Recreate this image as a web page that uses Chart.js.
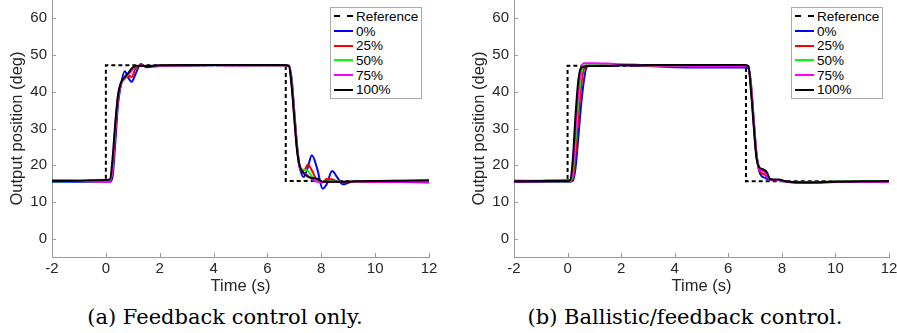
<!DOCTYPE html>
<html>
<head>
<meta charset="utf-8">
<script src="https://cdn.jsdelivr.net/npm/chart.js@4.4.1/dist/chart.umd.min.js"></script>
<style>
  body { margin: 0; width: 897px; height: 333px; overflow: hidden; background: #fff; position: relative; font-family: "Liberation Sans", Arial, sans-serif; }
  canvas { position: absolute; top: 0; }
  #chartA { left: 0; }
  #chartB { left: 462px; }
  .legend { position: absolute; top: 7px; width: 85px; border: 1px solid #aaa; background: #fff; padding: 1px 2px 1px 3px; font-size: 13.5px; color: #000; }
  .legend .row { height: 14.7px; display: flex; align-items: center; }
  .legend .swatch { width: 19px; height: 0; border-top: 2px solid #000; margin-right: 3px; }
  .caption { position: absolute; top: 305px; font-family: "DejaVu Serif", serif; font-size: 21px; line-height: 24px; color: #000; white-space: nowrap; transform: translateX(-50%); }
</style>
</head>
<body>
<canvas id="chartA" width="448" height="296"></canvas>
<canvas id="chartB" width="435" height="296"></canvas>
<div class="legend" id="legendA" style="left:330px"></div>
<div class="legend" id="legendB" style="left:791px"></div>
<div class="caption" style="left:225px">(a) Feedback control only.</div>
<div class="caption" style="left:685px">(b) Ballistic/feedback control.</div>
<script>
// nama seri dan warna
const seriesNames = ["Reference", "0%", "25%", "50%", "75%", "100%"];
const seriesColors = ["#000000", "#0000ff", "#ff0000", "#00ff00", "#ff00ff", "#000000"];

// (a) feedback saja
const refTimesA = [-2, 0, 0, 6.68, 6.68, 12];
const refValuesA = [15.7, 15.7, 47.2, 47.2, 15.7, 15.7];
const timesA = [-2, -1, 0, 0.15, 0.25, 0.35, 0.45, 0.55, 0.7, 0.85, 0.95, 1.1, 1.3, 1.5, 2, 3, 4, 5, 6, 6.6,
  6.8, 6.9, 7.0, 7.1, 7.2, 7.35, 7.5, 7.65, 7.85, 8.05, 8.2, 8.4, 8.6, 8.8, 9.0, 9.3, 10, 11, 12];
const p0A = [15.5, 15.5, 15.5, 15.5, 17.0, 26.0, 36.5, 41.5, 45.6, 43.6, 42.7, 44.8, 47.6, 46.7, 47.0, 47.1, 47.2, 47.2, 47.2, 47.2,
  47.1, 43.5, 34.5, 25.5, 19.5, 16.8, 19.5, 22.7, 19.0, 13.6, 14.8, 18.4, 16.6, 14.8, 15.2, 15.7, 15.4, 15.4, 15.3];
const p25A = [15.8, 15.7, 15.6, 15.6, 19.0, 29.0, 37.8, 41.8, 43.6, 44.4, 44.0, 46.3, 47.2, 47.0, 47.1, 47.2, 47.3, 47.2, 47.2, 47.2,
  47.1, 43.0, 34.0, 25.0, 19.5, 18.6, 20.1, 18.6, 15.8, 15.3, 16.3, 16.2, 15.6, 15.3, 15.4, 15.5, 15.5, 15.6, 15.6];
const p50A = [15.6, 15.7, 15.6, 15.7, 20.0, 30.5, 38.8, 42.0, 43.8, 44.8, 45.6, 46.9, 47.1, 47.0, 47.1, 47.2, 47.3, 47.3, 47.2, 47.2,
  47.1, 42.5, 33.5, 24.5, 19.4, 18.8, 18.5, 17.0, 15.7, 15.4, 15.6, 15.7, 15.6, 15.5, 15.5, 15.6, 15.7, 15.8, 15.8];
const p75A = [15.9, 15.8, 15.5, 15.5, 19.5, 30.0, 38.5, 42.0, 44.0, 45.0, 45.8, 46.9, 47.1, 47.0, 47.1, 47.2, 47.3, 47.2, 47.2, 47.2,
  47.1, 42.0, 33.0, 24.3, 19.2, 18.0, 17.2, 16.2, 15.5, 15.4, 15.5, 15.5, 15.5, 15.5, 15.5, 15.6, 15.5, 15.5, 15.5];
const p100A = [15.7, 15.8, 16.0, 16.1, 22.0, 31.5, 39.0, 42.3, 44.0, 45.3, 46.3, 47.0, 47.1, 47.0, 47.2, 47.3, 47.3, 47.3, 47.3, 47.3,
  47.0, 41.5, 32.5, 24.0, 19.8, 17.8, 16.9, 16.5, 16.3, 15.5, 15.5, 15.5, 15.5, 15.5, 15.5, 15.6, 15.7, 15.8, 15.9];

// (b) ballistic/feedback
const refTimesB = [-2, 0, 0, 6.66, 6.66, 12];
const refValuesB = [15.6, 15.6, 47.1, 47.1, 15.6, 15.6];
const timesB = [-2, -1, 0, 0.1, 0.2, 0.3, 0.4, 0.5, 0.6, 0.7, 0.8, 1.0, 1.5, 2, 2.5, 3, 4, 5, 6, 6.6,
  6.75, 6.85, 6.95, 7.05, 7.15, 7.25, 7.35, 7.45, 7.55, 7.7, 7.9, 8.1, 8.4, 9, 10, 11, 12];
const p0B = [15.5, 15.5, 15.5, 15.5, 15.8, 19.5, 27.5, 36.0, 42.5, 46.5, 47.0, 47.0, 47.1, 47.2, 47.1, 47.0, 46.7, 46.6, 46.6, 46.6,
  46.5, 42.0, 32.5, 23.5, 18.5, 17.0, 16.6, 16.3, 16.0, 16.0, 16.0, 15.6, 15.3, 15.2, 15.4, 15.5, 15.5];
const p25B = [15.6, 15.6, 15.6, 15.6, 16.5, 23.5, 33.0, 41.0, 46.0, 47.0, 47.1, 47.1, 47.2, 47.3, 47.2, 47.1, 46.9, 46.9, 47.0, 47.0,
  46.9, 41.5, 32.0, 23.0, 18.8, 17.8, 17.5, 16.8, 16.1, 16.0, 16.0, 15.6, 15.4, 15.3, 15.5, 15.6, 15.6];
const p50B = [15.9, 15.7, 15.6, 15.7, 18.0, 27.5, 37.5, 44.5, 47.0, 47.2, 47.2, 47.2, 47.3, 47.3, 47.3, 47.2, 47.1, 47.1, 47.1, 47.1,
  47.0, 41.0, 31.5, 22.5, 19.5, 18.8, 18.5, 17.4, 16.2, 16.0, 16.0, 15.7, 15.4, 15.3, 15.6, 15.7, 15.7];
const p75B = [15.6, 15.8, 16.0, 16.0, 19.0, 30.0, 40.0, 46.0, 47.8, 47.8, 47.8, 47.8, 47.7, 47.5, 47.4, 47.2, 47.1, 47.0, 47.0, 47.0,
  46.9, 41.0, 31.5, 23.0, 19.2, 18.5, 18.2, 17.0, 16.1, 16.0, 16.0, 15.6, 15.4, 15.3, 15.5, 15.5, 15.5];
const p100B = [15.6, 15.7, 15.7, 15.9, 22.0, 34.0, 43.0, 46.5, 46.8, 47.0, 47.0, 47.0, 47.0, 47.2, 47.2, 47.3, 47.3, 47.3, 47.3, 47.3,
  47.0, 40.0, 30.5, 22.0, 19.5, 19.0, 18.7, 18.0, 16.3, 16.1, 16.1, 15.7, 15.4, 15.3, 15.5, 15.6, 15.7];

// tick axis
const xTicks = [-2, 0, 2, 4, 6, 8, 10, 12];
const yTicks = [0, 10, 20, 30, 40, 50, 60];

const axisGray = "#9a9a9a";
const tickText = "#262626";

const toPoints = (ts, vs) => ts.map((t, i) => ({ x: t, y: vs[i] }));

// tick kecil ke arah dalam
const inwardTicks = {
  id: "inwardTicks",
  afterDraw(chart) {
    const { ctx, chartArea, scales } = chart;
    ctx.save();
    ctx.strokeStyle = axisGray;
    ctx.lineWidth = 1;
    ctx.beginPath();
    scales.x.ticks.forEach(t => {
      const px = Math.round(scales.x.getPixelForValue(t.value)) + 0.5;
      ctx.moveTo(px, chartArea.bottom);
      ctx.lineTo(px, chartArea.bottom - 4);
    });
    scales.y.ticks.forEach(t => {
      const py = Math.round(scales.y.getPixelForValue(t.value)) + 0.5;
      ctx.moveTo(chartArea.left, py);
      ctx.lineTo(chartArea.left + 4, py);
    });
    ctx.stroke();
    ctx.restore();
  }
};

function buildLegend(id) {
  const box = document.getElementById(id);
  seriesNames.forEach((name, i) => {
    const row = document.createElement("div");
    row.className = "row";
    const sw = document.createElement("span");
    sw.className = "swatch";
    sw.style.borderTop = (i === 0 ? "2px dashed " : "2px solid ") + seriesColors[i];
    const label = document.createElement("span");
    label.textContent = name;
    row.appendChild(sw);
    row.appendChild(label);
    box.appendChild(row);
  });
}

function makeChart(canvasId, refTimes, refValues, times, curves, rightPad) {
  const datasets = [{
    label: seriesNames[0],
    data: toPoints(refTimes, refValues),
    borderColor: seriesColors[0],
    borderWidth: 2,
    borderDash: [4, 3],
    tension: 0,
    order: 6
  }];
  curves.forEach((vals, i) => {
    datasets.push({
      label: seriesNames[i + 1],
      data: toPoints(times, vals),
      borderColor: seriesColors[i + 1],
      borderWidth: 2,
      cubicInterpolationMode: "monotone",
      order: 5 - i
    });
  });

  return new Chart(document.getElementById(canvasId), {
    type: "line",
    data: { datasets },
    options: {
      responsive: false,
      animation: false,
      events: [],
      layout: { padding: { left: 8, right: rightPad, top: 0, bottom: 0 } },
      elements: { point: { radius: 0 } },
      plugins: { legend: { display: false }, tooltip: { enabled: false } },
      scales: {
        x: {
          type: "linear",
          min: -2,
          max: 12,
          afterBuildTicks: axis => { axis.ticks = xTicks.map(v => ({ value: v })); },
          afterFit: scale => { scale.height = 39; scale.paddingLeft = 0; scale.paddingRight = 0; },
          grid: { display: true, drawOnChartArea: false, drawTicks: false },
          border: { display: true, color: axisGray, width: 1 },
          ticks: { color: tickText, font: { family: "Liberation Sans", size: 15 }, padding: 3, maxRotation: 0, autoSkip: false },
          title: { display: true, text: "Time (s)", color: tickText, font: { family: "Liberation Sans", size: 16.5 }, padding: 0 }
        },
        y: {
          min: -5,
          max: 65,
          afterBuildTicks: axis => { axis.ticks = yTicks.map(v => ({ value: v })); },
          afterFit: scale => { scale.width = 44; scale.paddingTop = 0; scale.paddingBottom = 0; },
          grid: { display: true, drawOnChartArea: false, drawTicks: false },
          border: { display: true, color: axisGray, width: 1 },
          ticks: { color: tickText, font: { family: "Liberation Sans", size: 15 }, padding: 5 },
          title: { display: true, text: "Output position (deg)", color: tickText, font: { family: "Liberation Sans", size: 16.5 }, padding: 0 }
        }
      }
    },
    plugins: [inwardTicks]
  });
}

buildLegend("legendA");
buildLegend("legendB");
makeChart("chartA", refTimesA, refValuesA, timesA, [p0A, p25A, p50A, p75A, p100A], 19);
makeChart("chartB", refTimesB, refValuesB, timesB, [p0B, p25B, p50B, p75B, p100B], 8);
</script>
</body>
</html>
